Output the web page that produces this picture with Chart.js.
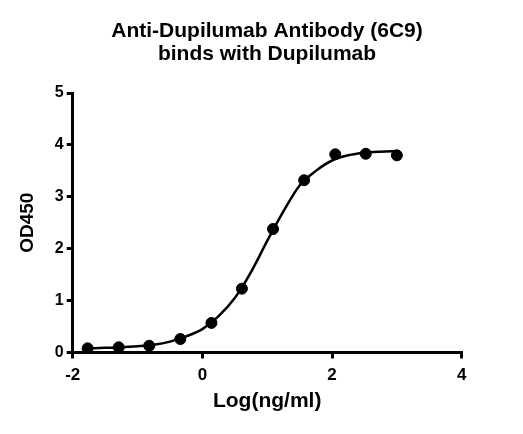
<!DOCTYPE html>
<html>
<head>
<meta charset="utf-8">
<script src="https://cdn.jsdelivr.net/npm/chart.js@4"></script>
<style>
  html, body { margin: 0; padding: 0; background: #fff; }
  #wrap { width: 523px; height: 434px; }
</style>
</head>
<body>
<div id="wrap"><canvas id="chart" width="523" height="434"></canvas></div>
<script>
// measured points: log10 concentration vs OD450
const logConc = [-1.77, -1.29, -0.82, -0.34, 0.14, 0.61, 1.09, 1.57, 2.05, 2.52, 3.0];
const od450 = [0.08, 0.10, 0.13, 0.26, 0.57, 1.23, 2.38, 3.32, 3.82, 3.83, 3.80];

// fitted curve
const curveX = [-1.77, -1.5, -1.25, -1.0, -0.75, -0.5, -0.25, 0.0, 0.25, 0.5, 0.75, 1.0, 1.25, 1.5, 1.75, 2.0, 2.25, 2.5, 2.75, 3.0];
const curveY = [0.08, 0.09, 0.10, 0.12, 0.15, 0.21, 0.31, 0.45, 0.70, 1.05, 1.55, 2.15, 2.72, 3.22, 3.50, 3.70, 3.80, 3.85, 3.87, 3.88];

const xTicks = [-2, 0, 2, 4];
const yTicks = [0, 1, 2, 3, 4, 5];

const font = 'Liberation Sans, Arial, sans-serif';

new Chart(document.getElementById('chart'), {
  type: 'scatter',
  data: {
    datasets: [
      {
        type: 'line',
        data: curveX.map((x, i) => ({ x: x, y: curveY[i] })),
        borderColor: '#000',
        borderWidth: 2.5,
        pointRadius: 0,
        cubicInterpolationMode: 'monotone',
        fill: false
      },
      {
        data: logConc.map((x, i) => ({ x: x, y: od450[i] })),
        backgroundColor: '#000',
        borderColor: '#000',
        pointRadius: 5.5,
        pointHoverRadius: 5.5
      }
    ]
  },
  options: {
    responsive: false,
    animation: false,
    // left pad shifts the title box so it centres over the plot
    layout: { padding: { left: 11, right: 0, top: 0, bottom: 0 } },
    plugins: {
      legend: { display: false },
      tooltip: { enabled: false },
      title: {
        display: true,
        text: ['Anti-Dupilumab Antibody (6C9)', 'binds with Dupilumab'],
        color: '#000',
        font: { family: font, size: 21, weight: 'bold', lineHeight: 1.12 },
        padding: { top: 19, bottom: 27 }
      }
    },
    scales: {
      x: {
        type: 'linear',
        min: -2,
        max: 4,
        afterFit: s => { s.height = 81.5; },
        afterBuildTicks: s => { s.ticks = xTicks.map(v => ({ value: v })); },
        border: { display: true, color: '#000', width: 3 },
        grid: { drawOnChartArea: false, drawTicks: true, tickLength: 6, color: '#000', lineWidth: 3 },
        ticks: { color: '#000', padding: 7, maxRotation: 0, font: { family: font, size: 17, weight: 'bold' } },
        title: {
          display: true,
          text: 'Log(ng/ml)',
          color: '#000',
          font: { family: font, size: 21, weight: 'bold' },
          padding: { top: 0, bottom: 20 }
        }
      },
      y: {
        type: 'linear',
        min: 0,
        max: 5,
        afterFit: s => { s.width = 61.7; },
        afterBuildTicks: s => { s.ticks = yTicks.map(v => ({ value: v })); },
        border: { display: true, color: '#000', width: 3 },
        grid: { drawOnChartArea: false, drawTicks: true, tickLength: 6, color: '#000', lineWidth: 3 },
        ticks: { color: '#000', padding: 3, font: { family: font, size: 16, weight: 'bold' } },
        title: {
          display: true,
          text: 'OD450',
          color: '#000',
          font: { family: font, size: 19, weight: 'bold' },
          padding: { top: 5, bottom: 0 }
        }
      },
      // empty right-hand gutter
      yPad: {
        type: 'linear',
        position: 'right',
        min: 0,
        max: 5,
        afterFit: s => { s.width = 61.3; },
        border: { display: false },
        grid: { display: false },
        ticks: { display: false }
      }
    }
  }
});
</script>
</body>
</html>
